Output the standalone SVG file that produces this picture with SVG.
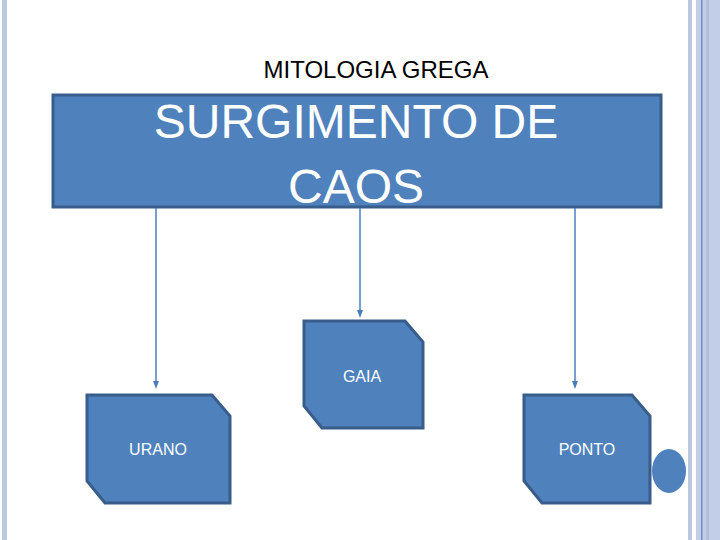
<svg xmlns="http://www.w3.org/2000/svg" width="720" height="540" viewBox="0 0 720 540">
<style>
.n{fill:#4f81bd;stroke:#385d8a;stroke-width:3}
.t{font-family:"Liberation Sans",Arial,sans-serif;fill:#fff;font-size:16px;text-anchor:middle}
.c{stroke:#4a7ebb;stroke-width:1.5;fill:none}
</style>
<defs><marker id="a" markerWidth="8" markerHeight="8" refX="4" refY="4" orient="auto" markerUnits="userSpaceOnUse"><path d="M0,1 L8,4 L0,7z" fill="#4a7ebb"/></marker></defs>
<rect width="720" height="540" fill="#fff"/>
<rect x="2" y="0" width="5" height="540" fill="#b9c7e0"/>
<rect x="688" y="0" width="4" height="540" fill="#b9c7e0"/>
<rect x="696" y="0" width="24" height="540" fill="#c2cde8"/>
<rect x="701" y="0" width="1.5" height="540" fill="#6f8fc0"/>
<rect x="706" y="0" width="3" height="540" fill="#b0bfdc"/>
<text x="376" y="78" font-family="Liberation Sans,Arial,sans-serif" font-size="24" text-anchor="middle" fill="#000">MITOLOGIA GREGA</text>
<g id="caos"><rect class="n" x="53" y="95" width="608" height="112"/>
<text x="356" y="138" font-family="Liberation Sans,Arial,sans-serif" font-size="48" text-anchor="middle" fill="#fff">SURGIMENTO DE</text>
<text x="356" y="203" font-family="Liberation Sans,Arial,sans-serif" font-size="48" text-anchor="middle" fill="#fff">CAOS</text></g>
<g id="connectors">
<line class="c" x1="156" y1="208" x2="156" y2="385" marker-end="url(#a)"/>
<line class="c" x1="360" y1="208" x2="360" y2="314" marker-end="url(#a)"/>
<line class="c" x1="575" y1="208" x2="575" y2="385" marker-end="url(#a)"/>
</g>
<g id="gaia"><path class="n" d="M304,321 H405 L423,342 V428 H322 L304,406z"/><text class="t" x="362" y="382">GAIA</text></g>
<g id="urano"><path class="n" d="M87,395 H212 L230,416 V503 H105 L87,481z"/><text class="t" x="158" y="455">URANO</text></g>
<g id="ponto"><path class="n" d="M524,395 H632 L650,416 V503 H542 L524,481z"/><text class="t" x="587" y="455">PONTO</text></g>
<ellipse cx="669" cy="471" rx="17" ry="22" fill="#4f81bd"/>
</svg>
